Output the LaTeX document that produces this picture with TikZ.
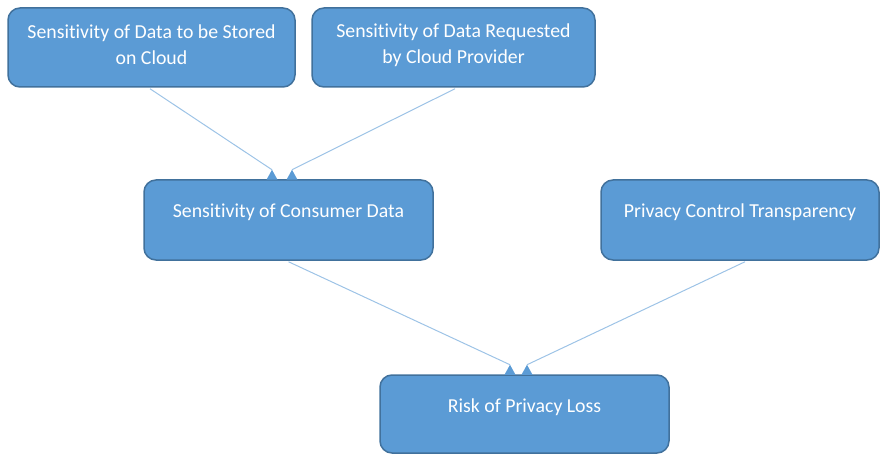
\documentclass[tikz,border=0pt]{standalone}
\usepackage{fontspec}
\setmainfont[Ligatures=NoCommon]{Carlito}
\usetikzlibrary{calc}
\definecolor{boxfill}{HTML}{5B9BD5}
\definecolor{boxdraw}{HTML}{41719C}
\definecolor{linkcol}{HTML}{9DC3E6}
\tikzset{
  box/.style={draw=boxdraw, fill=boxfill, line width=1.5pt, rounded corners=12pt, inner sep=0pt},
  txt/.style={text=white, align=center, inner sep=0pt, font=\fontsize{19.8}{26}\selectfont},
  link/.style={draw=linkcol, line width=1pt},
  headfill/.style={fill=boxfill}
}
\newcommand{\headat}[1]{\fill[headfill] (#1) -- ++(-5.5,10) -- ++(11,0) -- cycle;}
\begin{document}
\begin{tikzpicture}[x=1pt,y=-1pt]
\useasboundingbox (0,0) rectangle (880,454);
\node[box, minimum width=287pt, minimum height=79pt] (a) at (151.5,47.5) {};
\node[box, minimum width=283pt, minimum height=79pt] (b) at (453.5,47.5) {};
\node[box, minimum width=289pt, minimum height=80pt] (c) at (288.5,220) {};
\node[box, minimum width=278pt, minimum height=80pt] (d) at (740,220) {};
\node[box, minimum width=289pt, minimum height=78pt] (e) at (524.5,414) {};
\node[txt] (ta) at ($(a.north)+(0,37.5)$) {Sensitivity of Data to be Stored\\on Cloud};
\node[txt] (tb) at ($(b.north)+(0,37.5)$) {Sensitivity of Data Requested\\by Cloud Provider};
\node[txt] (tc) at ($(c.north)+(0,33)$) {Sensitivity of Consumer Data};
\node[txt] (td) at ($(d.north)+(0,33)$) {Privacy Control Transparency};
\node[txt] (te) at ($(e.north)+(0,33)$) {Risk of Privacy Loss};
\coordinate (ca) at ($(c.north)+(-16.5,-9.5)$);
\coordinate (cb) at ($(c.north)+(3.5,-9.5)$);
\coordinate (ec) at ($(e.north)+(-14.5,-9.5)$);
\coordinate (ed) at ($(e.north)+(2.5,-9.5)$);
\draw[link] ($(a.south)+(-1.5,1)$) -- (ca);
\draw[link] ($(b.south)+(1.5,1)$) -- (cb);
\draw[link] ($(c.south)+(0,1)$) -- (ec);
\draw[link] ($(d.south)+(5,1)$) -- (ed);
\headat{ca}
\headat{cb}
\headat{ec}
\headat{ed}
\end{tikzpicture}
\end{document}
